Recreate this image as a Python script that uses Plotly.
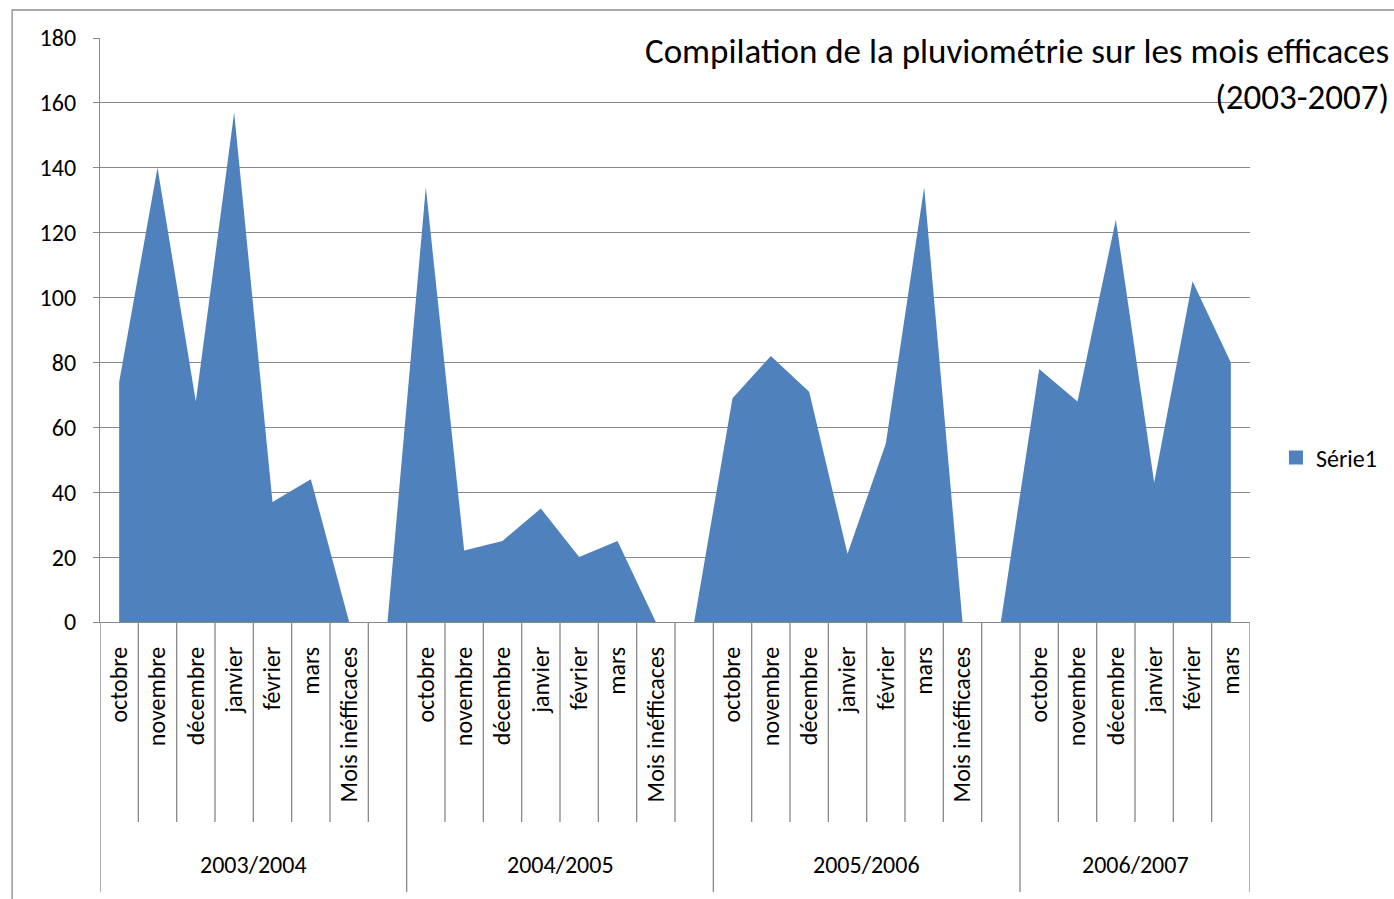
import plotly.graph_objects as go

# ---- data ----
groups = ["2003/2004", "2004/2005", "2005/2006", "2006/2007"]
months = ["octobre", "novembre", "décembre", "janvier", "février", "mars", "Mois inéfficaces", ""]
months_last = ["octobre", "novembre", "décembre", "janvier", "février", "mars"]
values_2003_2004 = [74, 140, 68, 157, 37, 44, 0, 0]
values_2004_2005 = [134, 22, 25, 35, 20, 25, 0, 0]
values_2005_2006 = [69, 82, 71, 21, 55, 134, 0, 0]
values_2006_2007 = [78, 68, 124, 43, 105, 80]
series_name = "Série1"
title_text = "Compilation de la pluviométrie sur les mois efficaces<br>(2003-2007)"
y_ticks = [0, 20, 40, 60, 80, 100, 120, 140, 160, 180]

group_labels = [months, months, months, months_last]
group_values = [values_2003_2004, values_2004_2005, values_2005_2006, values_2006_2007]

labels, values = [], []
for labs, vals in zip(group_labels, group_values):
    for lab, v in zip(labs, vals):
        labels.append(lab)
        values.append(v)
xs = list(range(len(labels)))

FONT = "Carlito, Lato, sans-serif"
GRID = "#888888"
BLUE = "#4F81BD"

W, H = 1394, 899
L, R, T, B = 100, 142, 38, 277
pw = W - L - R
ph = H - T - B

def px(page_x):
    return (page_x - L) / pw

def py(page_y):
    return (H - B - page_y) / ph

fig = go.Figure()
fig.add_trace(go.Scatter(
    x=xs, y=values, mode="lines", fill="tozeroy",
    fillcolor=BLUE, line=dict(width=0, color=BLUE),
    showlegend=False, hoverinfo="x+y", name=series_name,
))
fig.add_trace(go.Scatter(
    x=[None], y=[None], mode="markers", name=series_name,
    marker=dict(symbol="square", size=14, color=BLUE),
))

shapes = []
starts = []
idx = 0
for labs in group_labels:
    starts.append(idx)
    idx += len(labs)
group_bounds = set(starts + [len(labels)])
for k in range(len(labels) + 1):
    long = k in group_bounds
    shapes.append(dict(
        type="line", xref="x", yref="paper",
        x0=k - 0.5, x1=k - 0.5, y0=0, y1=py(892) if long else py(822),
        line=dict(color=GRID, width=1.3),
    ))
shapes.append(dict(
    type="rect", xref="paper", yref="paper",
    x0=px(12), x1=px(1420), y0=py(920), y1=py(10),
    line=dict(color="#8c8c8c", width=1.3), fillcolor="rgba(0,0,0,0)", layer="below",
))

annotations = []
for g, s, labs in zip(groups, starts, group_labels):
    annotations.append(dict(
        x=s + (len(labs) - 1) / 2, y=py(864), xref="x", yref="paper",
        text=g, showarrow=False, font=dict(family=FONT, size=24, color="black"),
        xanchor="center", yanchor="middle",
    ))
annotations.append(dict(
    x=px(1393), y=py(74), xref="paper", yref="paper",
    text=title_text, showarrow=False, align="right",
    xanchor="right", yanchor="middle",
    font=dict(family=FONT, size=35, color="black"),
))

fig.update_layout(
    width=W, height=H,
    margin=dict(l=L, r=R, t=T, b=B),
    paper_bgcolor="white", plot_bgcolor="white",
    shapes=shapes, annotations=annotations,
    legend=dict(
        x=px(1278), y=py(458), xanchor="left", yanchor="middle",
        font=dict(family=FONT, size=24, color="black"),
        bgcolor="rgba(0,0,0,0)",
    ),
    xaxis=dict(
        range=[-0.5, len(labels) - 0.5],
        tickmode="array", tickvals=xs, ticktext=labels,
        tickangle=-90, ticks="", ticklabelstandoff=14,
        tickfont=dict(family=FONT, size=24, color="black"),
        showgrid=False, zeroline=False,
        showline=True, linecolor=GRID, linewidth=1.3,
    ),
    yaxis=dict(
        range=[0, 180], tickmode="array", tickvals=y_ticks,
        ticks="outside", ticklen=6, tickcolor=GRID, tickwidth=1.3,
        ticklabelstandoff=12,
        tickfont=dict(family=FONT, size=24, color="black"),
        showgrid=True, gridcolor=GRID, gridwidth=1.3,
        zeroline=False, showline=True, linecolor=GRID, linewidth=1.3,
    ),
)

fig.write_html(
    "out.html",
    config={"displayModeBar": False},
    post_script="document.body.style.margin='0';document.body.style.overflow='hidden';",
)
